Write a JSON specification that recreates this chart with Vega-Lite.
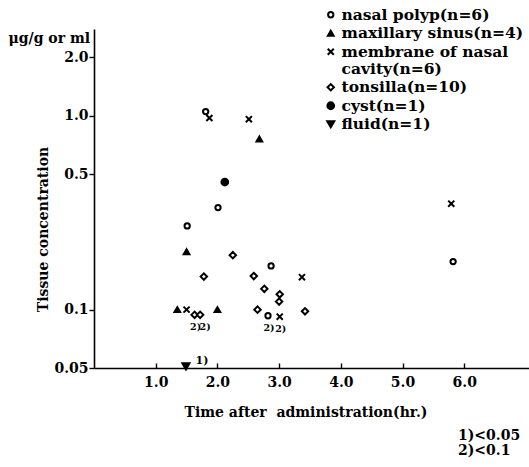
{
  "$schema": "https://vega.github.io/schema/vega-lite/v6.json",
  "width": 435,
  "height": 339,
  "autosize": "none",
  "padding": {"left": 94, "top": 29, "right": 0, "bottom": 99},
  "background": "white",
  "title": {
    "text": ["1)<0.05", "2)<0.1"],
    "orient": "bottom",
    "anchor": "start",
    "frame": "group",
    "align": "left",
    "dx": 364,
    "offset": 10,
    "font": "DejaVu Serif",
    "fontWeight": "bold",
    "fontSize": 14,
    "lineHeight": 15,
    "color": "black"
  },
  "config": {
    "view": {"stroke": null},
    "axis": {
      "domainColor": "black",
      "domainWidth": 1.6,
      "tickColor": "black",
      "tickWidth": 1.4,
      "grid": false,
      "labelFont": "DejaVu Serif",
      "labelFontWeight": "bold",
      "labelFontSize": 14,
      "labelColor": "black",
      "titleFont": "DejaVu Serif",
      "titleFontWeight": "bold",
      "titleFontSize": 14,
      "titleColor": "black"
    },
    "legend": {
      "orient": "none",
      "legendX": 229,
      "legendY": -22,
      "padding": 0,
      "rowPadding": 1.5,
      "labelOffset": 3,
      "labelFont": "DejaVu Serif",
      "labelFontWeight": "bold",
      "labelFontSize": 15.5,
      "labelColor": "black",
      "labelLimit": 300,
      "symbolStrokeWidth": 2
    }
  },
  "data": {
    "values": [
      {"type": "nasal polyp(n=6)", "time": 1.81, "conc": 1.05, "note": ""},
      {"type": "nasal polyp(n=6)", "time": 2.01, "conc": 0.336, "note": ""},
      {"type": "nasal polyp(n=6)", "time": 1.51, "conc": 0.27, "note": ""},
      {"type": "nasal polyp(n=6)", "time": 2.87, "conc": 0.168, "note": ""},
      {"type": "nasal polyp(n=6)", "time": 5.82, "conc": 0.177, "note": ""},
      {"type": "nasal polyp(n=6)", "time": 2.82, "conc": 0.093, "note": "2)"},
      {"type": "maxillary sinus(n=4)", "time": 1.5, "conc": 0.199, "note": ""},
      {"type": "maxillary sinus(n=4)", "time": 2.68, "conc": 0.758, "note": ""},
      {"type": "maxillary sinus(n=4)", "time": 1.35, "conc": 0.1, "note": ""},
      {"type": "maxillary sinus(n=4)", "time": 2.0, "conc": 0.1, "note": ""},
      {"type": "membrane of nasal cavity(n=6)", "time": 1.87, "conc": 0.973, "note": ""},
      {"type": "membrane of nasal cavity(n=6)", "time": 2.51, "conc": 0.96, "note": ""},
      {"type": "membrane of nasal cavity(n=6)", "time": 3.37, "conc": 0.147, "note": ""},
      {"type": "membrane of nasal cavity(n=6)", "time": 1.5, "conc": 0.1, "note": ""},
      {"type": "membrane of nasal cavity(n=6)", "time": 5.79, "conc": 0.352, "note": ""},
      {"type": "membrane of nasal cavity(n=6)", "time": 3.01, "conc": 0.092, "note": "2)"},
      {"type": "tonsilla(n=10)", "time": 2.25, "conc": 0.191, "note": ""},
      {"type": "tonsilla(n=10)", "time": 1.78, "conc": 0.148, "note": ""},
      {"type": "tonsilla(n=10)", "time": 2.59, "conc": 0.149, "note": ""},
      {"type": "tonsilla(n=10)", "time": 2.76, "conc": 0.128, "note": ""},
      {"type": "tonsilla(n=10)", "time": 3.01, "conc": 0.12, "note": ""},
      {"type": "tonsilla(n=10)", "time": 3.0, "conc": 0.11, "note": ""},
      {"type": "tonsilla(n=10)", "time": 2.65, "conc": 0.1, "note": ""},
      {"type": "tonsilla(n=10)", "time": 3.42, "conc": 0.098, "note": ""},
      {"type": "tonsilla(n=10)", "time": 1.63, "conc": 0.094, "note": "2)"},
      {"type": "tonsilla(n=10)", "time": 1.72, "conc": 0.094, "note": "2)"},
      {"type": "cyst(n=1)", "time": 2.12, "conc": 0.455, "note": ""},
      {"type": "fluid(n=1)", "time": 1.49, "conc": 0.051, "note": "1)"}
    ]
  },
  "layer": [
    {
      "mark": {"type": "point", "strokeWidth": 2, "opacity": 1},
      "encoding": {
        "x": {
          "field": "time", "type": "quantitative",
          "scale": {"domain": [0, 7.05], "nice": false, "zero": false},
          "axis": {
            "title": "Time after\u00a0 administration(hr.)",
            "values": [1, 2, 3, 4, 5, 6],
            "format": ".1f",
            "tickSize": -5,
            "labelPadding": 12,
            "titleAnchor": "start",
            "titleX": 90,
            "titleY": 44,
            "titleAlign": "left",
            "titleBaseline": "middle"
          }
        },
        "y": {
          "field": "conc", "type": "quantitative",
          "scale": {"type": "log", "domain": [0.05, 2.8], "nice": false},
          "axis": {
            "title": "Tissue concentration",
            "values": [0.05, 0.1, 0.5, 1, 2],
            "labelExpr": "datum.value == 0.05 ? '0.05' : format(datum.value, '.1f')",
            "tickSize": 5,
            "labelPadding": 1,
            "titleAngle": 270,
            "titleX": -51,
            "titleY": 200,
            "titleAlign": "center",
            "titleBaseline": "middle"
          }
        },
        "shape": {
          "field": "type", "type": "nominal",
          "scale": {
            "domain": ["nasal polyp(n=6)", "maxillary sinus(n=4)", "membrane of nasal cavity(n=6)", "tonsilla(n=10)", "cyst(n=1)", "fluid(n=1)"],
            "range": ["circle", "triangle-up", "M-1,-1L1,1M-1,1L1,-1", "diamond", "circle", "triangle-down"]
          },
          "legend": {
            "title": null,
            "labelExpr": "datum.label == 'membrane of nasal cavity(n=6)' ? ['membrane of nasal', '\u00a0cavity(n=6)'] : datum.label"
          }
        },
        "fill": {
          "field": "type", "type": "nominal",
          "scale": {
            "domain": ["nasal polyp(n=6)", "maxillary sinus(n=4)", "membrane of nasal cavity(n=6)", "tonsilla(n=10)", "cyst(n=1)", "fluid(n=1)"],
            "range": ["white", "black", "white", "white", "black", "black"]
          },
          "legend": {
            "title": null,
            "labelExpr": "datum.label == 'membrane of nasal cavity(n=6)' ? ['membrane of nasal', '\u00a0cavity(n=6)'] : datum.label"
          }
        },
        "stroke": {
          "field": "type", "type": "nominal",
          "scale": {
            "domain": ["nasal polyp(n=6)", "maxillary sinus(n=4)", "membrane of nasal cavity(n=6)", "tonsilla(n=10)", "cyst(n=1)", "fluid(n=1)"],
            "range": ["black", "black", "black", "black", "black", "black"]
          },
          "legend": {
            "title": null,
            "labelExpr": "datum.label == 'membrane of nasal cavity(n=6)' ? ['membrane of nasal', '\u00a0cavity(n=6)'] : datum.label"
          }
        },
        "size": {
          "field": "type", "type": "nominal",
          "scale": {
            "domain": ["nasal polyp(n=6)", "maxillary sinus(n=4)", "membrane of nasal cavity(n=6)", "tonsilla(n=10)", "cyst(n=1)", "fluid(n=1)"],
            "range": [28, 50, 24, 36, 40, 50]
          },
          "legend": {
            "title": null,
            "labelExpr": "datum.label == 'membrane of nasal cavity(n=6)' ? ['membrane of nasal', '\u00a0cavity(n=6)'] : datum.label"
          }
        }
      }
    },
    {
      "transform": [{"filter": "datum.note == '2)' && datum.time != 1.72"}],
      "mark": {"type": "text", "font": "DejaVu Serif", "fontWeight": "bold", "fontSize": 9.5, "dx": 1, "dy": 12, "color": "black"},
      "encoding": {
        "x": {"field": "time", "type": "quantitative", "axis": null},
        "y": {"field": "conc", "type": "quantitative"},
        "text": {"field": "note"}
      }
    },
    {
      "transform": [{"filter": "datum.note == '2)' && datum.time == 1.72"}],
      "mark": {"type": "text", "font": "DejaVu Serif", "fontWeight": "bold", "fontSize": 9.5, "dx": 5, "dy": 12, "color": "black"},
      "encoding": {
        "x": {"field": "time", "type": "quantitative", "axis": null},
        "y": {"field": "conc", "type": "quantitative"},
        "text": {"field": "note"}
      }
    },
    {
      "transform": [{"filter": "datum.note == '1)'"}],
      "mark": {"type": "text", "font": "DejaVu Serif", "fontWeight": "bold", "fontSize": 11, "dx": 16, "dy": -5, "color": "black"},
      "encoding": {
        "x": {
          "field": "time", "type": "quantitative",
          "axis": {
            "orient": "top", "domain": false, "ticks": false, "labels": false,
            "title": "μg/g or ml",
            "titleX": -86, "titleY": 9, "titleAlign": "left", "titleBaseline": "middle",
            "titleFontSize": 14
          }
        },
        "y": {"field": "conc", "type": "quantitative"},
        "text": {"field": "note"}
      }
    }
  ],
  "resolve": {"axis": {"x": "independent"}}
}
